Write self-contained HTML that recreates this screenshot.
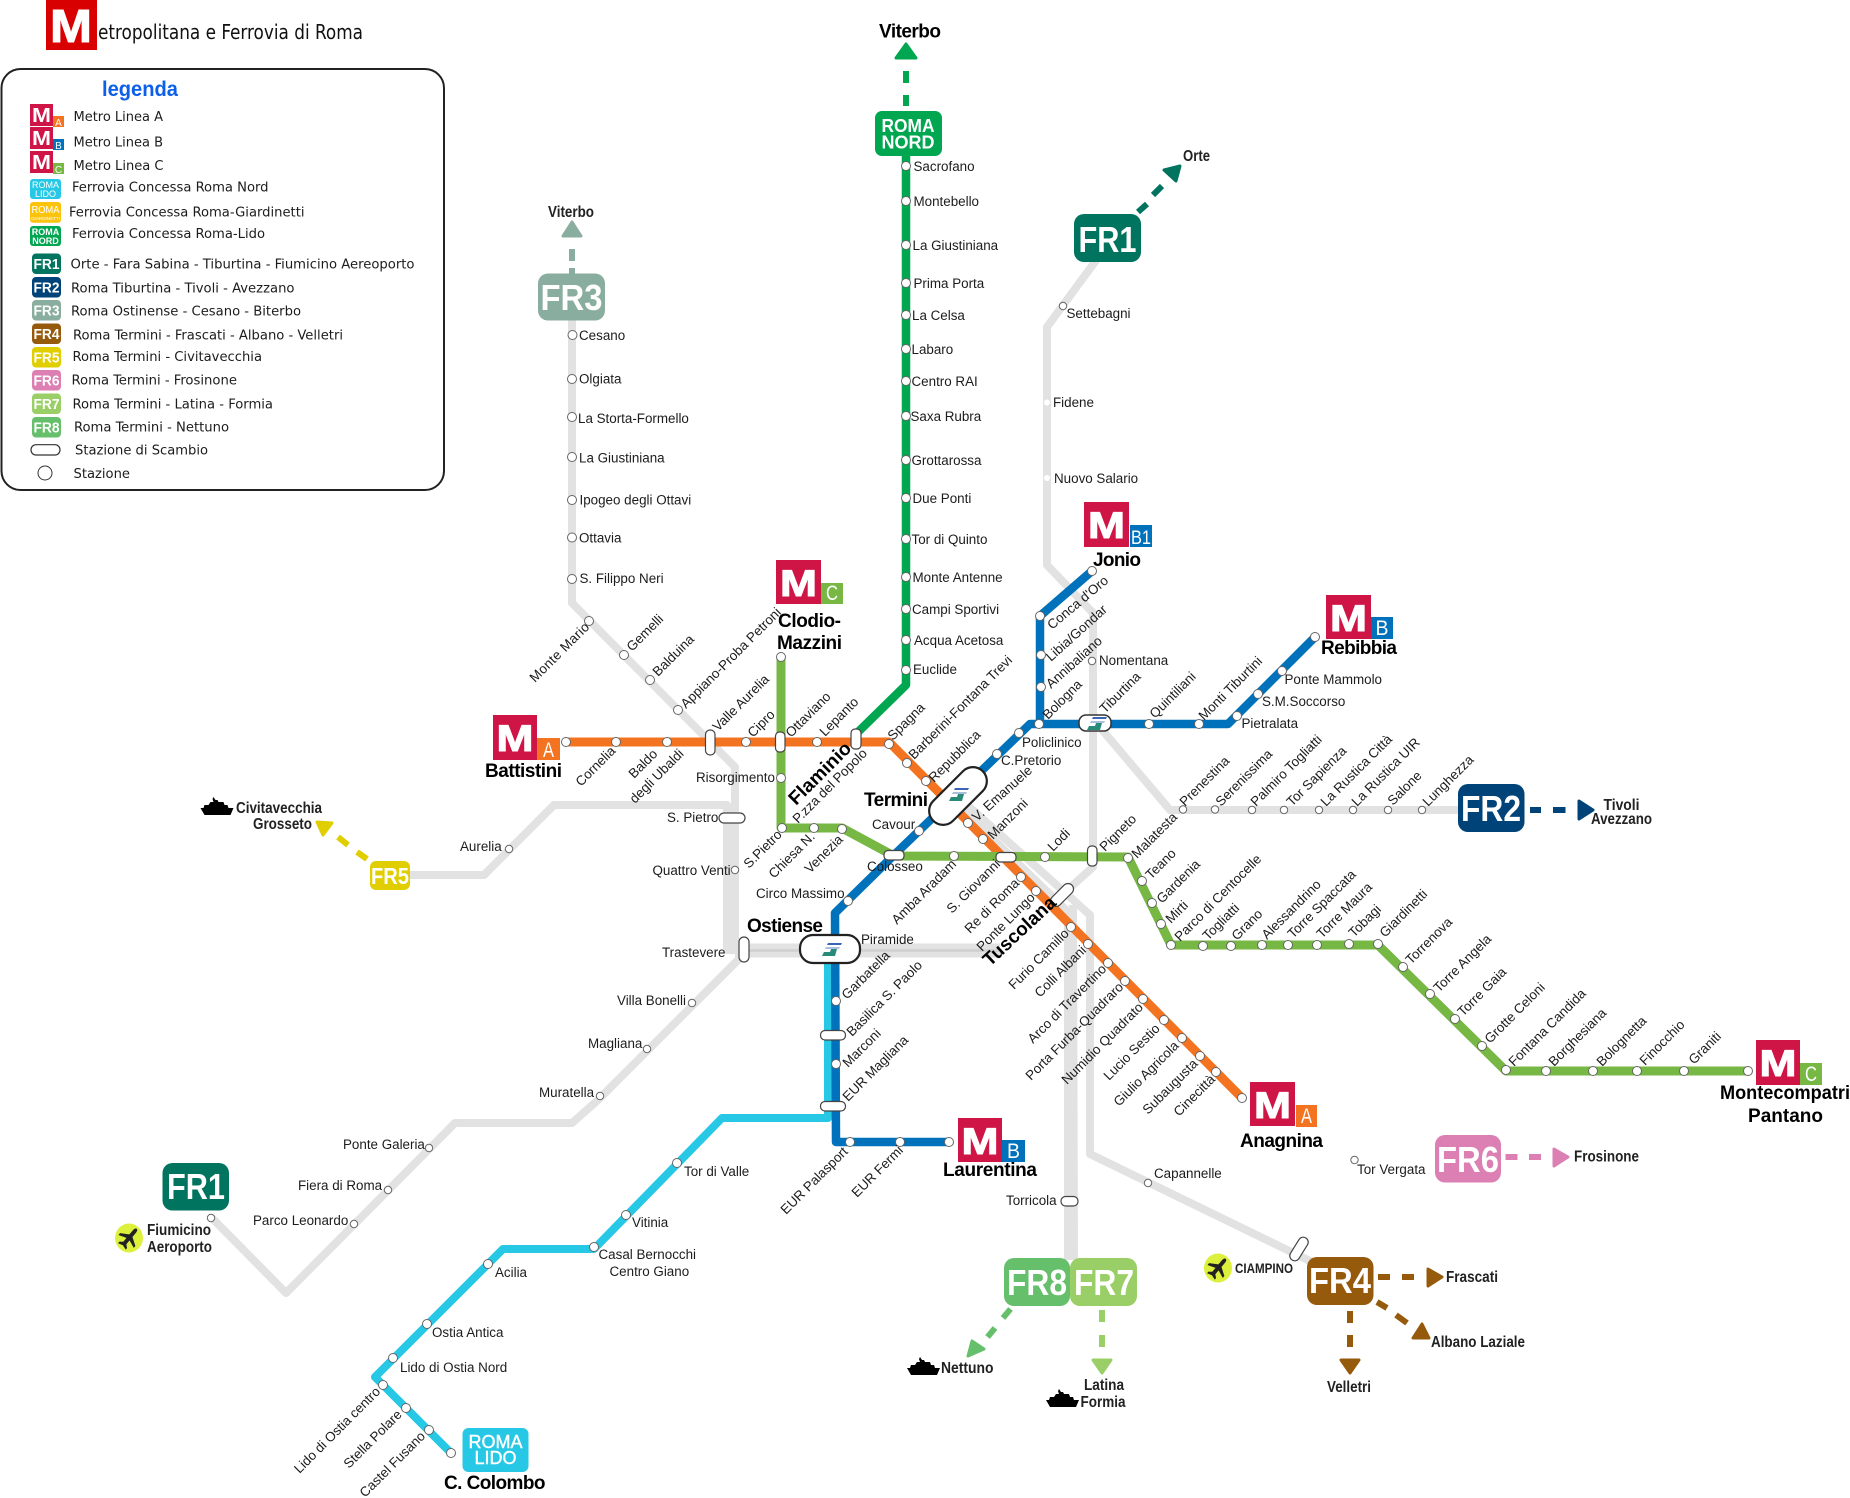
<!DOCTYPE html>
<html lang="it"><head><meta charset="utf-8"><title>Metropolitana e Ferrovia di Roma</title>
<style>
html,body{margin:0;padding:0;background:#fff;width:1850px;height:1498px;overflow:hidden}
svg{display:block}
text{font-family:"Liberation Sans",sans-serif;font-size:13.4px;fill:#1c1c1c}
.l text{font-family:"DejaVu Sans Condensed","DejaVu Sans","Liberation Sans",sans-serif;font-size:13.5px}
text.b{font-weight:bold;font-size:19px;fill:#000}
text.n{font-weight:bold;font-size:16px;fill:#222}
text.w{font-weight:bold;fill:#fff;text-anchor:middle}
text.m{font-weight:bold;fill:#fff;text-anchor:middle;font-size:37px;stroke:#fff;stroke-width:1}
</style></head><body>
<svg xmlns="http://www.w3.org/2000/svg" width="1850" height="1498" viewBox="0 0 1850 1498">
<rect width="1850" height="1498" fill="#fff"/>
<!-- header -->
<rect x="46" y="0" width="51" height="50" fill="#d80000"/>
<text class="m" x="71" y="42" textLength="42" lengthAdjust="spacingAndGlyphs" style="font-size:46px">M</text>
<text x="98" y="39" textLength="265" lengthAdjust="spacingAndGlyphs" style="font-family:'DejaVu Sans Condensed','DejaVu Sans',sans-serif;font-size:20px;fill:#111">etropolitana e Ferrovia di Roma</text>
<!-- legend -->
<rect x="1.5" y="69" width="442.5" height="421" rx="19" fill="#fff" stroke="#222" stroke-width="2"/>
<text x="102" y="96" textLength="76" lengthAdjust="spacingAndGlyphs" style="font-weight:bold;font-size:21px;fill:#0c5fe8">legenda</text>
<rect x="30" y="104" width="23" height="22" fill="#cf1446"/><rect x="53" y="116" width="11" height="11" fill="#f47321"/>
<text class="w" x="41.5" y="122" textLength="19" lengthAdjust="spacingAndGlyphs" style="font-size:20px">M</text><text class="w" x="58.5" y="126" style="font-size:10px;font-weight:normal">A</text>
<rect x="30" y="127" width="23" height="22" fill="#cf1446"/><rect x="53" y="139" width="11" height="11" fill="#0072bb"/>
<text class="w" x="41.5" y="145" textLength="19" lengthAdjust="spacingAndGlyphs" style="font-size:20px">M</text><text class="w" x="58.5" y="149" style="font-size:10px;font-weight:normal">B</text>
<rect x="30" y="151" width="23" height="22" fill="#cf1446"/><rect x="53" y="163" width="11" height="11" fill="#76b843"/>
<text class="w" x="41.5" y="169" textLength="19" lengthAdjust="spacingAndGlyphs" style="font-size:20px">M</text><text class="w" x="58.5" y="173" style="font-size:10px;font-weight:normal">C</text>
<rect x="30" y="179" width="31" height="20" rx="3" fill="#27c8e6"/>
<text class="w" x="45.5" y="188" style="font-size:9px;font-weight:normal">ROMA</text><text class="w" x="45.5" y="197" style="font-size:9px;font-weight:normal">LIDO</text>
<rect x="30" y="202" width="31" height="20.7" rx="3" fill="#fcc30c"/>
<text class="w" x="45.5" y="213" style="font-size:10.5px;font-weight:normal" textLength="28" lengthAdjust="spacingAndGlyphs">ROMA</text><text class="w" x="45.5" y="220" style="font-size:4.5px;font-weight:normal" textLength="29" lengthAdjust="spacingAndGlyphs">GIARDINETTI</text>
<rect x="30" y="226" width="31" height="20" rx="3" fill="#00a650"/>
<text class="w" x="45.5" y="235" style="font-size:9px">ROMA</text><text class="w" x="45.5" y="244" style="font-size:9px">NORD</text>
<rect x="32" y="253.5" width="29" height="20.5" rx="4" fill="#00745f"/><text class="w" x="46.5" y="269" style="font-size:15px" textLength="26" lengthAdjust="spacingAndGlyphs">FR1</text>
<rect x="32" y="277" width="29" height="20.5" rx="4" fill="#004378"/><text class="w" x="46.5" y="292.5" style="font-size:15px" textLength="26" lengthAdjust="spacingAndGlyphs">FR2</text>
<rect x="32" y="300" width="29" height="20.5" rx="4" fill="#89ad9f"/><text class="w" x="46.5" y="315.5" style="font-size:15px" textLength="26" lengthAdjust="spacingAndGlyphs">FR3</text>
<rect x="32" y="323.5" width="29" height="20.5" rx="4" fill="#955a0b"/><text class="w" x="46.5" y="339" style="font-size:15px" textLength="26" lengthAdjust="spacingAndGlyphs">FR4</text>
<rect x="32" y="347" width="29" height="20.5" rx="4" fill="#e0ce00"/><text class="w" x="46.5" y="362.5" style="font-size:15px" textLength="26" lengthAdjust="spacingAndGlyphs">FR5</text>
<rect x="32" y="370" width="29" height="20.5" rx="4" fill="#dc7fb3"/><text class="w" x="46.5" y="385.5" style="font-size:15px" textLength="26" lengthAdjust="spacingAndGlyphs">FR6</text>
<rect x="32" y="393.5" width="29" height="20.5" rx="4" fill="#99cf66"/><text class="w" x="46.5" y="409" style="font-size:15px" textLength="26" lengthAdjust="spacingAndGlyphs">FR7</text>
<rect x="32" y="417" width="29" height="20.5" rx="4" fill="#66bf6b"/><text class="w" x="46.5" y="432.5" style="font-size:15px" textLength="26" lengthAdjust="spacingAndGlyphs">FR8</text>
<rect x="31" y="444.7" width="29" height="10.3" rx="5" fill="#fff" stroke="#333" stroke-width="1.2"/>
<circle cx="45" cy="473" r="7" fill="#fff" stroke="#333" stroke-width="1"/>
<g class="l">
<text x="73.5" y="121" textLength="89.5" lengthAdjust="spacingAndGlyphs">Metro Linea A</text>
<text x="73.5" y="146.7" textLength="89.5" lengthAdjust="spacingAndGlyphs">Metro Linea B</text>
<text x="73.5" y="170" textLength="90" lengthAdjust="spacingAndGlyphs">Metro Linea C</text>
<text x="72" y="191.7" textLength="196.5" lengthAdjust="spacingAndGlyphs">Ferrovia Concessa Roma Nord</text>
<text x="69" y="216.7" textLength="235.5" lengthAdjust="spacingAndGlyphs">Ferrovia Concessa Roma-Giardinetti</text>
<text x="72" y="238" textLength="193" lengthAdjust="spacingAndGlyphs">Ferrovia Concessa Roma-Lido</text>
<text x="70.5" y="268.7" textLength="344" lengthAdjust="spacingAndGlyphs">Orte - Fara Sabina - Tiburtina - Fiumicino Aereoporto</text>
<text x="71" y="292.7" textLength="223.5" lengthAdjust="spacingAndGlyphs">Roma Tiburtina - Tivoli - Avezzano</text>
<text x="71" y="315.3" textLength="230" lengthAdjust="spacingAndGlyphs">Roma Ostinense - Cesano - Biterbo</text>
<text x="73" y="339.3" textLength="270" lengthAdjust="spacingAndGlyphs">Roma Termini - Frascati - Albano - Velletri</text>
<text x="72.5" y="361" textLength="189.5" lengthAdjust="spacingAndGlyphs">Roma Termini - Civitavecchia</text>
<text x="71.5" y="384.7" textLength="165.5" lengthAdjust="spacingAndGlyphs">Roma Termini - Frosinone</text>
<text x="72.5" y="408.7" textLength="200.5" lengthAdjust="spacingAndGlyphs">Roma Termini - Latina - Formia</text>
<text x="74" y="431.7" textLength="155" lengthAdjust="spacingAndGlyphs">Roma Termini - Nettuno</text>
<text x="75" y="454.7" textLength="133" lengthAdjust="spacingAndGlyphs">Stazione di Scambio</text>
<text x="73.5" y="478" textLength="56.5" lengthAdjust="spacingAndGlyphs">Stazione</text>
</g>
<!-- gray lines -->
<g fill="none" stroke="#e2e2e2" stroke-width="8" stroke-linejoin="round">
<polyline points="572,310 572,603 735,767 735,950"/>
<polyline points="405,875 484,875 554,805 727,805 727,950 745,950"/>
<path d="M735 947H1000M735 954H1000" stroke-width="7"/>
<polyline points="743,955 598,1100 572,1123 455,1123 286,1293 211,1217"/>
<polyline points="1100,255 1047,327 1047,565 1093,613 1093,867 1062,895"/>
<polyline points="1098,725 1170,810 1465,810"/>
<polyline points="965,803 1090,915 1090,1154 1312,1262"/>
<polyline points="958,805 1068,912 1068,1260"/>
<polyline points="1073,905 1074,1260"/>
</g>
<path d="M740 950.500H1000" stroke="#d2d2d2" stroke-width="3"/>
<!-- dashes -->
<g fill="none" stroke-width="6">
<path d="M906 71V83M906 95V106" stroke="#00a650"/>
<path d="M572 249V261M572 268V276" stroke="#89ad9f"/>
<path d="M1138 212L1147 204M1153 195L1162 186" stroke="#00745f"/>
<path d="M1530 810H1541M1553 810H1565.500" stroke="#004378"/>
<path d="M1378 1277H1390M1402 1277H1414M1377 1302L1387 1308M1396 1315L1407 1323M1350 1311V1323M1350 1335V1347" stroke="#955a0b"/>
<path d="M367 859L357 852M348 845L338 837" stroke="#e0ce00"/>
<path d="M1505.500 1157H1517.500M1529 1157H1541" stroke="#dc7fb3"/>
<path d="M1102 1310V1322M1102 1335V1347" stroke="#99cf66"/>
<path d="M1010.500 1309L1003 1318M995 1328L987.500 1337" stroke="#66bf6b"/>
</g>
<!-- arrowheads -->
<g stroke-width="3" stroke-linejoin="round">
<path d="M906 44L916 58H896Z" fill="#00a650" stroke="#00a650"/>
<path d="M572 222L581 236H563Z" fill="#89ad9f" stroke="#89ad9f"/>
<path d="M1164 170L1180 166L1176 181Z" fill="#00745f" stroke="#00745f"/>
<path d="M1579 801L1593 810L1579 819Z" fill="#004378" stroke="#004378"/>
<path d="M1428 1269L1442 1277L1428 1286ZM1422 1324L1413 1338H1429ZM1341 1360H1359L1350 1373Z" fill="#955a0b" stroke="#955a0b"/>
<path d="M317 822L332 823L323 835Z" fill="#e0ce00" stroke="#e0ce00"/>
<path d="M1554 1149L1568 1157L1554 1166Z" fill="#dc7fb3" stroke="#dc7fb3"/>
<path d="M1093 1360H1111L1102 1373Z" fill="#99cf66" stroke="#99cf66"/>
<path d="M972 1341L968 1356L984 1349Z" fill="#66bf6b" stroke="#66bf6b"/>
</g>
<!-- coloured lines -->
<g fill="none" stroke-linejoin="round">
<polyline points="906,156 906,685 857,733" stroke="#00a650" stroke-width="8.500"/>
<polyline points="828,960 828,1118 722,1118 594,1249 503,1249 375,1377 451,1453" stroke="#27c8e6" stroke-width="8"/>
<polyline points="566,742 889,742 1242,1098" stroke="#f47321" stroke-width="9"/>
<polyline points="1315,637 1228,724 1030,724 894,855 835,913 836,1142 949,1142" stroke="#0072bb" stroke-width="8.500"/>
<polyline points="1040,724 1040,616 1092,571" stroke="#0072bb" stroke-width="8.500"/>
<polyline points="781,657 781,828 842,828 894,856 1128,857 1171,945 1378,945 1506,1071 1748,1071" stroke="#76b843" stroke-width="9"/>
</g>
<!-- FS interchange boxes -->
<g fill="#fff" stroke="#222" stroke-width="2.200">
<rect x="923" y="782" width="70" height="28" rx="14" transform="rotate(-45 958 796)"/>
<rect x="800" y="935" width="60" height="28" rx="13"/>
</g>
<rect x="1079" y="715" width="32" height="16" rx="7" fill="#fff" stroke="#333" stroke-width="1.500"/>
<!-- FS logos -->
<g transform="translate(949 788)"><path d="M6 0H20L19 2H5Z" fill="#3a64b8"/><path d="M4 4H18L17 6H3Z" fill="#a9bfdc"/><path d="M9 6H15L13 13H0L2 9H8Z" fill="#2a8a7a"/></g>
<g transform="translate(1087 717)"><path d="M6 0H20L19 2H5Z" fill="#3a64b8"/><path d="M4 4H18L17 6H3Z" fill="#a9bfdc"/><path d="M9 6H15L13 13H0L2 9H8Z" fill="#2a8a7a"/></g>
<g transform="translate(822 943)"><path d="M6 0H20L19 2H5Z" fill="#3a64b8"/><path d="M4 4H18L17 6H3Z" fill="#a9bfdc"/><path d="M9 6H15L13 13H0L2 9H8Z" fill="#2a8a7a"/></g>
<!-- interchange pills -->
<g fill="#fff" stroke="#444" stroke-width="1.200">
<rect x="705.500" y="730" width="9.500" height="25" rx="4.500"/>
<rect x="775.500" y="732" width="9.500" height="20" rx="4"/>
<rect x="851" y="729" width="10" height="20" rx="4"/>
<rect x="884" y="850.500" width="20" height="9.500" rx="4"/>
<rect x="996" y="852.500" width="20" height="9.500" rx="4"/>
<rect x="1087.500" y="846" width="9.500" height="20" rx="4"/>
<rect x="1048" y="889.500" width="28" height="11" rx="5.500" transform="rotate(-45 1062 895)"/>
<rect x="820.500" y="1030.500" width="25" height="9.500" rx="4.500"/>
<rect x="820.500" y="1101.500" width="25" height="9.500" rx="4.500"/>
<rect x="719" y="813" width="26" height="10" rx="5"/>
<rect x="739" y="937" width="10" height="25" rx="5"/>
<rect x="1061" y="1196.500" width="17" height="9.500" rx="4.500"/>
<rect x="1286" y="1244" width="26" height="10" rx="5" transform="rotate(-58 1299 1249)"/>
</g>
<!-- stations big -->
<g fill="#fff" stroke="#666" stroke-width="1">
<circle cx="906" cy="166" r="4.500"/><circle cx="906" cy="201" r="4.500"/><circle cx="906" cy="245" r="4.500"/><circle cx="906" cy="283" r="4.500"/><circle cx="906" cy="315" r="4.500"/><circle cx="906" cy="349" r="4.500"/><circle cx="906" cy="381" r="4.500"/><circle cx="906" cy="416" r="4.500"/><circle cx="906" cy="460" r="4.500"/><circle cx="906" cy="498" r="4.500"/><circle cx="906" cy="539" r="4.500"/><circle cx="906" cy="577" r="4.500"/><circle cx="906" cy="609" r="4.500"/><circle cx="906" cy="640" r="4.500"/><circle cx="906" cy="670" r="4.500"/>
<circle cx="572.500" cy="335" r="4.500"/><circle cx="572" cy="379" r="4.500"/><circle cx="572" cy="417" r="4.500"/><circle cx="572" cy="457" r="4.500"/><circle cx="572" cy="500" r="4.500"/><circle cx="572" cy="537.500" r="4.500"/><circle cx="572" cy="579" r="4.500"/><circle cx="589" cy="621" r="4.500"/><circle cx="624" cy="655" r="4.500"/><circle cx="650" cy="680" r="4.500"/><circle cx="678" cy="710" r="4.500"/>
<circle cx="566" cy="742" r="4.500"/><circle cx="616" cy="742" r="4.500"/><circle cx="667" cy="742" r="4.500"/><circle cx="746" cy="742" r="4.500"/><circle cx="817" cy="742" r="4.500"/><circle cx="889" cy="744" r="4.500"/><circle cx="907" cy="763" r="4.500"/><circle cx="926" cy="781" r="4.500"/><circle cx="968" cy="823" r="4.500"/><circle cx="983" cy="839" r="4.500"/><circle cx="1021" cy="877" r="4.500"/><circle cx="1036" cy="891" r="4.500"/><circle cx="1071" cy="927" r="4.500"/><circle cx="1088" cy="944" r="4.500"/><circle cx="1108" cy="963" r="4.500"/><circle cx="1125" cy="981" r="4.500"/><circle cx="1143" cy="999" r="4.500"/><circle cx="1164" cy="1020" r="4.500"/><circle cx="1182" cy="1038" r="4.500"/><circle cx="1200" cy="1056" r="4.500"/><circle cx="1216" cy="1072" r="4.500"/><circle cx="1242" cy="1098" r="4.500"/>
<circle cx="1315" cy="637" r="4.500"/><circle cx="1282" cy="671" r="4.500"/><circle cx="1258" cy="694" r="4.500"/><circle cx="1237" cy="716" r="4.500"/><circle cx="1199" cy="724" r="4.500"/><circle cx="1149" cy="724" r="4.500"/><circle cx="1039" cy="724" r="4.500"/><circle cx="1019" cy="733" r="4.500"/><circle cx="997" cy="754" r="4.500"/><circle cx="919" cy="831" r="4.500"/><circle cx="848" cy="901" r="4.500"/><circle cx="836" cy="1001" r="4.500"/><circle cx="836" cy="1064" r="4.500"/><circle cx="850" cy="1142" r="4.500"/><circle cx="900" cy="1142" r="4.500"/><circle cx="949" cy="1142" r="4.500"/><circle cx="1040" cy="616" r="4.500"/><circle cx="1041" cy="655" r="4.500"/><circle cx="1041" cy="687" r="4.500"/><circle cx="1092" cy="571" r="4.500"/>
<circle cx="781" cy="657" r="4.500"/><circle cx="781" cy="778" r="4.500"/><circle cx="782" cy="828" r="4.500"/><circle cx="814" cy="828" r="4.500"/><circle cx="842" cy="829" r="4.500"/><circle cx="954" cy="856" r="4.500"/><circle cx="1045" cy="857" r="4.500"/><circle cx="1128" cy="858" r="4.500"/><circle cx="1142" cy="881" r="4.500"/><circle cx="1152" cy="903" r="4.500"/><circle cx="1161" cy="924" r="4.500"/><circle cx="1171" cy="945" r="4.500"/><circle cx="1203" cy="946" r="4.500"/><circle cx="1231" cy="946" r="4.500"/><circle cx="1262" cy="945" r="4.500"/><circle cx="1288" cy="945" r="4.500"/><circle cx="1317" cy="945" r="4.500"/><circle cx="1349" cy="944" r="4.500"/><circle cx="1378" cy="944" r="4.500"/><circle cx="1403" cy="967" r="4.500"/><circle cx="1430" cy="994" r="4.500"/><circle cx="1455" cy="1019" r="4.500"/><circle cx="1482" cy="1046" r="4.500"/><circle cx="1506" cy="1070" r="4.500"/><circle cx="1546" cy="1071" r="4.500"/><circle cx="1593" cy="1071" r="4.500"/><circle cx="1637" cy="1071" r="4.500"/><circle cx="1684" cy="1071" r="4.500"/><circle cx="1748" cy="1071" r="4.500"/>
<circle cx="677" cy="1163" r="4.500"/><circle cx="626" cy="1215" r="4.500"/><circle cx="594" cy="1247" r="4.500"/><circle cx="488" cy="1264" r="4.500"/><circle cx="427" cy="1324" r="4.500"/><circle cx="393" cy="1358" r="4.500"/><circle cx="383" cy="1385" r="4.500"/><circle cx="406" cy="1408" r="4.500"/><circle cx="429" cy="1430" r="4.500"/><circle cx="451" cy="1453" r="4.500"/>
</g>
<g fill="#fff" stroke="#666" stroke-width="1">
<circle cx="1183" cy="809.500" r="3.700"/><circle cx="1215" cy="809.500" r="3.700"/><circle cx="1252" cy="810" r="3.700"/><circle cx="1284" cy="810" r="3.700"/><circle cx="1319" cy="810" r="3.700"/><circle cx="1353" cy="810" r="3.700"/><circle cx="1388" cy="810" r="3.700"/><circle cx="1422" cy="810" r="3.700"/>
<circle cx="1092" cy="661" r="3.700"/><circle cx="1063" cy="306" r="3.700"/><circle cx="1148" cy="1183" r="3.700"/><circle cx="1354.500" cy="1160" r="3.700"/>
<circle cx="509" cy="849" r="3.700"/><circle cx="735" cy="870" r="3.700"/><circle cx="692" cy="1003" r="3.700"/><circle cx="647" cy="1049" r="3.700"/><circle cx="600" cy="1096" r="3.700"/><circle cx="429" cy="1148" r="3.700"/><circle cx="388" cy="1190" r="3.700"/><circle cx="354" cy="1224" r="3.700"/><circle cx="211" cy="1218" r="3.700"/>
</g>
<circle cx="1047" cy="402.500" r="3" fill="#fff"/><circle cx="1047" cy="478" r="3" fill="#fff"/>
<!-- FR boxes -->
<rect x="875" y="111" width="67" height="45" rx="7" fill="#00a650"/>
<text class="w" x="908" y="132" style="font-size:18px" textLength="53" lengthAdjust="spacingAndGlyphs">ROMA</text><text class="w" x="908" y="148.500" style="font-size:18px" textLength="53" lengthAdjust="spacingAndGlyphs">NORD</text>
<rect x="538" y="273.500" width="67" height="47" rx="10" fill="#89ad9f"/><text class="w" x="571.500" y="310" style="font-size:36px" textLength="62" lengthAdjust="spacingAndGlyphs">FR3</text>
<rect x="1074" y="214" width="67" height="48" rx="10" fill="#00745f"/><text class="w" x="1107.500" y="252" style="font-size:36px" textLength="58" lengthAdjust="spacingAndGlyphs">FR1</text>
<rect x="1458" y="784" width="66.500" height="48" rx="10" fill="#004378"/><text class="w" x="1491" y="821" style="font-size:36px" textLength="60" lengthAdjust="spacingAndGlyphs">FR2</text>
<rect x="1435" y="1135" width="66" height="47.500" rx="10" fill="#dc7fb3"/><text class="w" x="1468" y="1172" style="font-size:36px" textLength="62" lengthAdjust="spacingAndGlyphs">FR6</text>
<rect x="1307" y="1257" width="66.500" height="48" rx="10" fill="#955a0b"/><text class="w" x="1340" y="1293" style="font-size:36px" textLength="62" lengthAdjust="spacingAndGlyphs">FR4</text>
<rect x="1004" y="1258" width="66" height="48" rx="10" fill="#66bf6b"/><text class="w" x="1037" y="1295" style="font-size:36px" textLength="60" lengthAdjust="spacingAndGlyphs">FR8</text>
<rect x="1070" y="1258" width="67" height="48" rx="10" fill="#99cf66"/><text class="w" x="1104" y="1295" style="font-size:36px" textLength="60" lengthAdjust="spacingAndGlyphs">FR7</text>
<rect x="370" y="861" width="40" height="29" rx="6" fill="#e0ce00"/><text class="w" x="390" y="884" style="font-size:23px" textLength="38" lengthAdjust="spacingAndGlyphs">FR5</text>
<rect x="162.500" y="1163" width="66.500" height="47.500" rx="10" fill="#00745f"/><text class="w" x="196" y="1199" style="font-size:36px" textLength="58" lengthAdjust="spacingAndGlyphs">FR1</text>
<rect x="462.500" y="1428" width="66" height="44" rx="6" fill="#27c8e6"/>
<text class="w" x="495.500" y="1448" style="font-size:18px;font-weight:normal;stroke:#fff;stroke-width:.4">ROMA</text><text class="w" x="495.500" y="1464" style="font-size:18px;font-weight:normal;stroke:#fff;stroke-width:.4">LIDO</text>
<!-- Metro logos -->
<rect x="493" y="715" width="44" height="45" fill="#cf1446"/><rect x="537" y="738" width="23" height="22" fill="#f47321"/><text class="m" x="515" y="751" textLength="37" lengthAdjust="spacingAndGlyphs">M</text><text class="w" x="548.500" y="757" style="font-size:21px;font-weight:normal" textLength="11" lengthAdjust="spacingAndGlyphs">A</text>
<rect x="776" y="560" width="45" height="44" fill="#cf1446"/><rect x="821" y="583" width="22" height="21" fill="#76b843"/><text class="m" x="798.500" y="596" textLength="37" lengthAdjust="spacingAndGlyphs">M</text><text class="w" x="832" y="600" style="font-size:21px;font-weight:normal" textLength="12" lengthAdjust="spacingAndGlyphs">C</text>
<rect x="1084" y="502" width="45" height="45" fill="#cf1446"/><rect x="1130" y="525" width="22" height="22" fill="#0072bb"/><text class="m" x="1106.500" y="538" textLength="37" lengthAdjust="spacingAndGlyphs">M</text><text class="w" x="1141" y="544" style="font-size:19px;font-weight:normal" textLength="20" lengthAdjust="spacingAndGlyphs">B1</text>
<rect x="1326" y="595" width="45" height="44" fill="#cf1446"/><rect x="1371" y="617" width="22" height="22" fill="#0072bb"/><text class="m" x="1348.500" y="631" textLength="37" lengthAdjust="spacingAndGlyphs">M</text><text class="w" x="1382" y="635" style="font-size:21px;font-weight:normal" textLength="13" lengthAdjust="spacingAndGlyphs">B</text>
<rect x="958" y="1118" width="44" height="44" fill="#cf1446"/><rect x="1002" y="1140" width="23" height="22" fill="#0072bb"/><text class="m" x="980" y="1154" textLength="37" lengthAdjust="spacingAndGlyphs">M</text><text class="w" x="1013.500" y="1158" style="font-size:21px;font-weight:normal" textLength="13" lengthAdjust="spacingAndGlyphs">B</text>
<rect x="1250" y="1082" width="45" height="44" fill="#cf1446"/><rect x="1296" y="1105" width="21" height="22" fill="#f47321"/><text class="m" x="1272.500" y="1118" textLength="37" lengthAdjust="spacingAndGlyphs">M</text><text class="w" x="1306.500" y="1123" style="font-size:21px;font-weight:normal" textLength="11" lengthAdjust="spacingAndGlyphs">A</text>
<rect x="1756" y="1040" width="44" height="45" fill="#cf1446"/><rect x="1800" y="1063" width="22" height="22" fill="#76b843"/><text class="m" x="1778" y="1076" textLength="37" lengthAdjust="spacingAndGlyphs">M</text><text class="w" x="1811" y="1081" style="font-size:21px;font-weight:normal" textLength="12" lengthAdjust="spacingAndGlyphs">C</text>
<!-- bold terminus labels -->
<text class="b" x="485" y="777" textLength="77">Battistini</text>
<text class="b" x="778" y="627" textLength="63">Clodio-</text>
<text class="b" x="777" y="649" textLength="65">Mazzini</text>
<text class="b" x="1093" y="566" textLength="48">Jonio</text>
<text class="b" x="1321" y="654" textLength="76">Rebibbia</text>
<text class="b" x="864" y="806" textLength="64">Termini</text>
<text class="b" x="747" y="932" textLength="76">Ostiense</text>
<text class="b" x="943" y="1176" textLength="94">Laurentina</text>
<text class="b" x="1240" y="1147" textLength="83">Anagnina</text>
<text class="b" x="1720" y="1099" textLength="130" lengthAdjust="spacingAndGlyphs">Montecompatri</text>
<text class="b" x="1785.500" y="1122" text-anchor="middle">Pantano</text>
<text class="b" x="444" y="1489" textLength="101.500">C. Colombo</text>
<text class="b" x="879" y="37.500" textLength="62">Viterbo</text>
<text class="b" transform="translate(796 806)rotate(-45)" textLength="80" lengthAdjust="spacingAndGlyphs">Flaminio</text>
<text class="b" transform="translate(990 967)rotate(-43)" textLength="92" lengthAdjust="spacingAndGlyphs">Tuscolana</text>
<!-- destination labels -->
<text class="n" x="548" y="217" textLength="46" lengthAdjust="spacingAndGlyphs">Viterbo</text>
<text class="n" x="1183" y="161" textLength="27" lengthAdjust="spacingAndGlyphs">Orte</text>
<text class="n" x="1621.500" y="810" text-anchor="middle" textLength="36" lengthAdjust="spacingAndGlyphs">Tivoli</text>
<text class="n" x="1591" y="824" textLength="61" lengthAdjust="spacingAndGlyphs">Avezzano</text>
<text class="n" x="1574" y="1161.700" textLength="65" lengthAdjust="spacingAndGlyphs">Frosinone</text>
<text class="n" x="1446" y="1282" textLength="52" lengthAdjust="spacingAndGlyphs">Frascati</text>
<text class="n" x="1431" y="1347" textLength="94" lengthAdjust="spacingAndGlyphs">Albano Laziale</text>
<text class="n" x="1327" y="1392" textLength="44" lengthAdjust="spacingAndGlyphs">Velletri</text>
<text class="n" x="1084" y="1390" textLength="40" lengthAdjust="spacingAndGlyphs">Latina</text>
<text class="n" x="1080.500" y="1407" textLength="45" lengthAdjust="spacingAndGlyphs">Formia</text>
<text class="n" x="941" y="1373" textLength="52.500" lengthAdjust="spacingAndGlyphs">Nettuno</text>
<text class="n" x="236" y="813" textLength="86" lengthAdjust="spacingAndGlyphs">Civitavecchia</text>
<text class="n" x="253" y="829" textLength="59" lengthAdjust="spacingAndGlyphs">Grosseto</text>
<text class="n" x="147" y="1235" textLength="64" lengthAdjust="spacingAndGlyphs">Fiumicino</text>
<text class="n" x="147" y="1252" textLength="65" lengthAdjust="spacingAndGlyphs">Aeroporto</text>
<text x="1235" y="1273" textLength="58" lengthAdjust="spacingAndGlyphs" style="font-weight:bold;font-size:13.500px;fill:#222">CIAMPINO</text>
<!-- ships -->
<path transform="translate(200.500 797)" d="M0 11h3l1-3h4l2-3h3l-1-3 1-2 2 3h2l1 2h5l1 3h3l1 3h5l-3 7H4z" fill="#000"/>
<path transform="translate(1046 1389)" d="M0 11h3l1-3h4l2-3h3l-1-3 1-2 2 3h2l1 2h5l1 3h3l1 3h5l-3 7H4z" fill="#000"/>
<path transform="translate(907 1357)" d="M0 11h3l1-3h4l2-3h3l-1-3 1-2 2 3h2l1 2h5l1 3h3l1 3h5l-3 7H4z" fill="#000"/>
<!-- airports -->
<ellipse cx="129" cy="1238" rx="14" ry="14.500" fill="#dcf03c"/>
<path transform="translate(129 1238)rotate(40)" d="M0-12c1.500 0 2 2 2 4v5l8 5v2.500l-8-3v5l3 2.500v2l-5-1.500-5 1.500v-2l3-2.500v-5l-8 3V2l8-5v-5c0-2 .5-4 2-4z" fill="#222"/>
<ellipse cx="1218" cy="1268" rx="14" ry="14.500" fill="#dcf03c"/>
<path transform="translate(1218 1268)rotate(40)" d="M0-12c1.500 0 2 2 2 4v5l8 5v2.500l-8-3v5l3 2.500v2l-5-1.500-5 1.500v-2l3-2.500v-5l-8 3V2l8-5v-5c0-2 .5-4 2-4z" fill="#222"/>
<!-- horizontal labels -->
<text x="913.500" y="171">Sacrofano</text><text x="913.500" y="206">Montebello</text><text x="912.500" y="250">La Giustiniana</text><text x="913.500" y="288">Prima Porta</text><text x="912" y="320">La Celsa</text><text x="911.500" y="354">Labaro</text><text x="911.500" y="386">Centro RAI</text><text x="910.500" y="421">Saxa Rubra</text><text x="911.500" y="465">Grottarossa</text><text x="912.500" y="503">Due Ponti</text><text x="911.500" y="544">Tor di Quinto</text><text x="912.500" y="582">Monte Antenne</text><text x="912" y="614">Campi Sportivi</text><text x="914" y="645">Acqua Acetosa</text><text x="913" y="674">Euclide</text>
<text x="579" y="340">Cesano</text><text x="579" y="383.500">Olgiata</text><text x="578" y="423">La Storta-Formello</text><text x="579" y="462.500">La Giustiniana</text><text x="579.500" y="504.500">Ipogeo degli Ottavi</text><text x="579" y="542.500">Ottavia</text><text x="579.500" y="583">S. Filippo Neri</text>
<text x="1066.500" y="318">Settebagni</text><text x="1053" y="407">Fidene</text><text x="1054" y="483">Nuovo Salario</text><text x="1099" y="665">Nomentana</text>
<text x="1022" y="747">Policlinico</text><text x="1001" y="765">C.Pretorio</text><text x="1241.500" y="728">Pietralata</text><text x="1262" y="706">S.M.Soccorso</text><text x="1284.500" y="684">Ponte Mammolo</text>
<text x="696" y="782">Risorgimento</text><text x="667" y="822">S. Pietro</text><text x="652.500" y="875">Quattro Venti</text><text x="756" y="898">Circo Massimo</text><text x="872" y="829">Cavour</text><text x="867" y="871">Colosseo</text><text x="662" y="957">Trastevere</text><text x="861" y="944">Piramide</text>
<text x="460" y="851">Aurelia</text><text x="617" y="1005">Villa Bonelli</text><text x="588" y="1048">Magliana</text><text x="539" y="1097">Muratella</text><text x="343" y="1149">Ponte Galeria</text><text x="298" y="1190">Fiera di Roma</text><text x="253" y="1225">Parco Leonardo</text>
<text x="684" y="1176">Tor di Valle</text><text x="632" y="1227">Vitinia</text><text x="598.500" y="1259">Casal Bernocchi</text><text x="609.500" y="1276">Centro Giano</text><text x="495" y="1277">Acilia</text><text x="432" y="1337">Ostia Antica</text><text x="400" y="1372">Lido di Ostia Nord</text>
<text x="1154" y="1178">Capannelle</text><text x="1006" y="1205">Torricola</text><text x="1357" y="1174">Tor Vergata</text>
<!-- rotated labels -->
<text transform="translate(535 683)rotate(-45)" textLength="78">Monte Mario</text>
<text transform="translate(632 652)rotate(-45)">Gemelli</text>
<text transform="translate(658 677)rotate(-45)">Balduina</text>
<text transform="translate(686 709)rotate(-45)">Appiano-Proba Petroni</text>
<text transform="translate(718 732)rotate(-45)">Valle Aurelia</text>
<text transform="translate(753 738)rotate(-45)">Cipro</text>
<text transform="translate(791 738)rotate(-45)">Ottaviano</text>
<text transform="translate(825 737)rotate(-45)">Lepanto</text>
<text transform="translate(893 741)rotate(-45)">Spagna</text>
<text transform="translate(914 760)rotate(-45)">Barberini-Fontana Trevi</text>
<text transform="translate(934 783)rotate(-45)">Repubblica</text>
<text transform="translate(581 787)rotate(-45)">Cornelia</text>
<text transform="translate(634 779)rotate(-45)">Baldo</text>
<text transform="translate(635 804)rotate(-45)">degli Ubaldi</text>
<text transform="translate(798 824)rotate(-45)">P.zza del Popolo</text>
<text transform="translate(749 869)rotate(-45)">S.Pietro</text>
<text transform="translate(774 879)rotate(-45)">Chiesa N.</text>
<text transform="translate(810 874)rotate(-45)">Venezia</text>
<text transform="translate(897 925)rotate(-45)">Amba Aradam</text>
<text transform="translate(952 914)rotate(-45)">S. Giovanni</text>
<text transform="translate(977 822)rotate(-42)">V. Emanuele</text>
<text transform="translate(993 840)rotate(-45)">Manzoni</text>
<text transform="translate(1053 852)rotate(-45)">Lodi</text>
<text transform="translate(1105 852)rotate(-45)">Pigneto</text>
<text transform="translate(1137 859)rotate(-45)">Malatesta</text>
<text transform="translate(1151 880)rotate(-45)">Teano</text>
<text transform="translate(1162 904)rotate(-45)">Gardenia</text>
<text transform="translate(1171 924)rotate(-45)">Mirti</text>
<text transform="translate(1180 942)rotate(-45)">Parco di Centocelle</text>
<text transform="translate(1208 941)rotate(-45)">Togliatti</text>
<text transform="translate(1237 941)rotate(-45)">Grano</text>
<text transform="translate(1267 940)rotate(-45)">Alessandrino</text>
<text transform="translate(1293 939)rotate(-45)">Torre Spaccata</text>
<text transform="translate(1322 939)rotate(-45)">Torre Maura</text>
<text transform="translate(1354 938)rotate(-45)">Tobagi</text>
<text transform="translate(1385 938)rotate(-45)">Giardinetti</text>
<text transform="translate(1185 807)rotate(-45)">Prenestina</text>
<text transform="translate(1221 807)rotate(-45)">Serenissima</text>
<text transform="translate(1256 807)rotate(-45)">Palmiro Togliatti</text>
<text transform="translate(1292 807)rotate(-45)">Tor Sapienza</text>
<text transform="translate(1326 807)rotate(-45)">La Rustica Città</text>
<text transform="translate(1357 807)rotate(-45)">La Rustica UIR</text>
<text transform="translate(1393 806)rotate(-45)">Salone</text>
<text transform="translate(1428 807)rotate(-45)">Lunghezza</text>
<text transform="translate(1048 720)rotate(-45)">Bologna</text>
<text transform="translate(1051 689)rotate(-42)">Annibaliano</text>
<text transform="translate(1051 662)rotate(-42)">Libia/Gondar</text>
<text transform="translate(1052 630)rotate(-40)">Conca d'Oro</text>
<text transform="translate(1105 714)rotate(-45)">Tiburtina</text>
<text transform="translate(1155 719)rotate(-45)">Quintiliani</text>
<text transform="translate(1204 721)rotate(-45)">Monti Tiburtini</text>
<text transform="translate(847 1000)rotate(-45)">Garbatella</text>
<text transform="translate(852 1037)rotate(-45)">Basilica S. Paolo</text>
<text transform="translate(848 1068)rotate(-45)">Marconi</text>
<text transform="translate(848 1102)rotate(-45)">EUR Magliana</text>
<text transform="translate(786 1215)rotate(-45)">EUR Palasport</text>
<text transform="translate(857 1198)rotate(-45)">EUR Fermi</text>
<text transform="translate(970 934)rotate(-45)">Re di Roma</text>
<text transform="translate(982 952)rotate(-45)">Ponte Lungo</text>
<text transform="translate(1014 990)rotate(-45)">Furio Camillo</text>
<text transform="translate(1040 998)rotate(-45)">Colli Albani</text>
<text transform="translate(1033 1044)rotate(-45)">Arco di Travertino</text>
<text transform="translate(1031 1081)rotate(-45)">Porta Furba-Quadraro</text>
<text transform="translate(1067 1085)rotate(-45)">Numidio Quadrato</text>
<text transform="translate(1109 1081)rotate(-45)">Lucio Sestio</text>
<text transform="translate(1119 1107)rotate(-45)">Giulio Agricola</text>
<text transform="translate(1148 1115)rotate(-45)">Subaugusta</text>
<text transform="translate(1179 1117)rotate(-45)">Cinecittà</text>
<text transform="translate(1411 965)rotate(-45)">Torrenova</text>
<text transform="translate(1439 993)rotate(-45)">Torre Angela</text>
<text transform="translate(1463 1017)rotate(-45)">Torre Gaia</text>
<text transform="translate(1490 1044)rotate(-45)">Grotte Celoni</text>
<text transform="translate(1514 1067)rotate(-45)">Fontana Candida</text>
<text transform="translate(1554 1067)rotate(-45)">Borghesiana</text>
<text transform="translate(1602 1067)rotate(-45)">Bolognetta</text>
<text transform="translate(1645 1066)rotate(-45)">Finocchio</text>
<text transform="translate(1694 1065)rotate(-45)">Graniti</text>
<text transform="translate(299.500 1474)rotate(-45)">Lido di Ostia centro</text>
<text transform="translate(349 1469)rotate(-45)">Stella Polare</text>
<text transform="translate(365 1498)rotate(-45)">Castel Fusano</text>
</svg>
</body></html>
